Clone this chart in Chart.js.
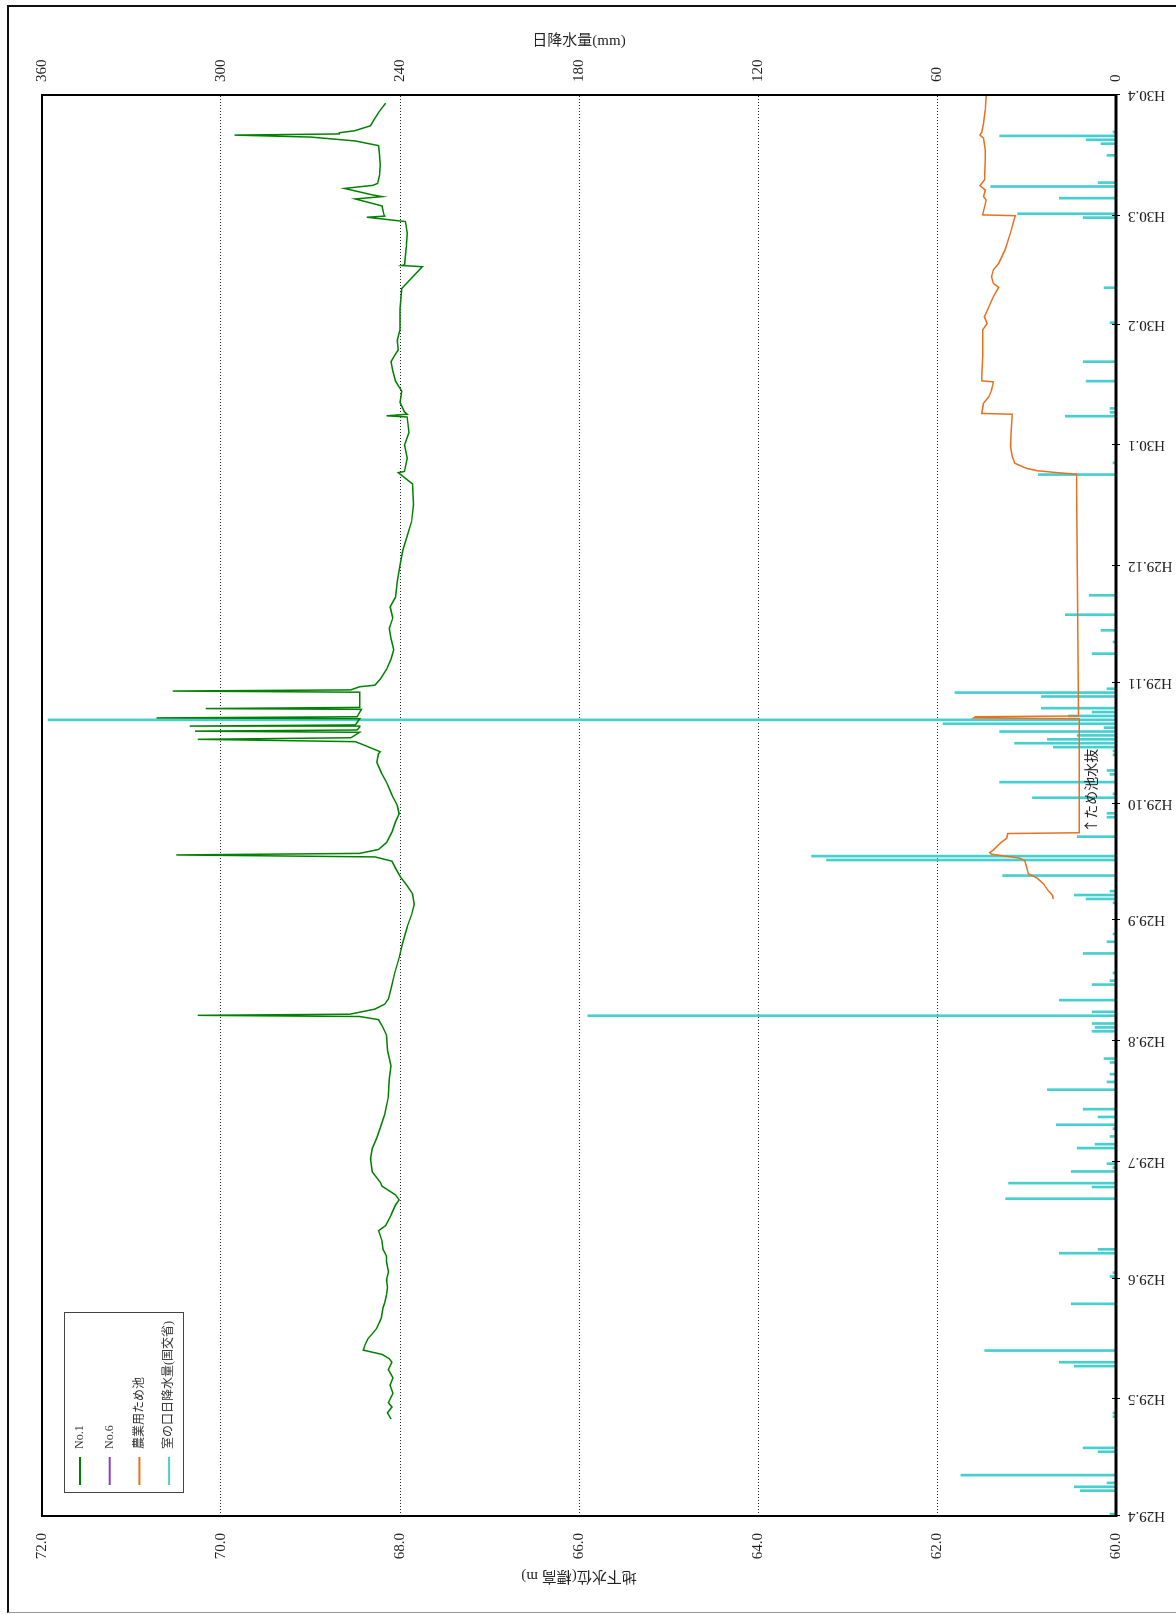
<!DOCTYPE html>
<html lang="ja">
<head>
<meta charset="utf-8">
<title>地下水位と日降水量</title>
<script src="https://cdn.jsdelivr.net/npm/chart.js@4.4.1/dist/chart.umd.min.js"></script>
<style>
  html, body { margin: 0; padding: 0; background: #fff; }
  #page { position: relative; width: 1176px; height: 1614px; overflow: hidden; background: #fff; }
  #frame { position: absolute; left: 7px; top: 5px; width: 1169px; height: 1608px; box-sizing: border-box;
           border-top: 2px solid #111; border-left: 2px solid #111; border-bottom: 1px solid #999; }
  /* the chart is laid out landscape and turned a quarter turn to the left */
  #turn { position: absolute; left: 0; top: 0; width: 1614px; height: 1176px;
          transform-origin: 0 0; transform: translateY(1614px) rotate(-90deg); }
</style>
</head>
<body>
<div id="page">
  <div id="frame"></div>
  <div id="turn"><canvas id="chart" width="1614" height="1176"></canvas></div>
</div>
<script>
// days counted from H29.4.1
var monthDays = [0, 30, 61, 91, 122, 153, 183, 214, 244, 275, 306, 334, 365];
var monthLabels = ['H29.4', 'H29.5', 'H29.6', 'H29.7', 'H29.8', 'H29.9', 'H29.10',
                   'H29.11', 'H29.12', 'H30.1', 'H30.2', 'H30.3', 'H30.4'];
var levelTicks = [60, 62, 64, 66, 68, 70, 72];
var rainTicks = [0, 60, 120, 180, 240, 300, 360];

// 室の口 daily rainfall (mm)
var rainDay = [0, 6, 7, 8, 10, 16, 17, 25, 26, 38, 39, 42, 54, 61, 62, 67, 68,
  81, 84, 85, 88, 89, 90, 94, 95, 97, 99, 100, 102, 104, 109, 111, 113, 116, 117,
  124, 125, 126, 128, 129, 132, 136, 137, 139, 144, 147, 149, 157, 158, 159, 160,
  164, 168, 169, 174, 179, 180, 184, 185, 188, 190, 191, 195, 196, 197, 198, 199,
  200, 201, 202, 203, 204, 205, 206, 207, 210, 211, 212, 221, 224, 227, 231, 236,
  267, 270, 282, 283, 284, 291, 296, 306, 315, 333, 334, 338, 341, 342, 349, 352,
  353, 354, 355];
var rainMm = [2, 12, 14, 3, 52, 6, 11, 1, 1, 14, 19, 44, 15, 2, 1, 19, 6,
  37, 8, 36, 15, 1, 3, 13, 7, 2, 1, 20, 6, 11, 23, 3, 2, 2, 4,
  8, 7, 8, 177, 8, 19, 8, 2, 1, 11, 3, 1, 1, 10, 14, 2,
  38, 97, 102, 13, 3, 3, 28, 1, 39, 2, 3, 1, 1, 21, 34, 23,
  13, 39, 4, 58, 358, 16, 8, 25, 25, 54, 3, 8, 1, 5, 17, 9,
  26, 1, 17, 2, 2, 10, 11, 2, 4, 11, 33, 19, 42, 6, 3, 5,
  10, 39, 1];

// No.1 groundwater level (m)
var no1Day = [24.9, 26.5, 28.0, 29.1, 31.5, 33.6, 35.5, 37.6, 39.5, 40.4, 41.5, 42.6, 44.0,
  45.5, 46.8, 48.2, 50.8, 53.5, 54.8, 56.8, 58.7, 60.7, 62.7, 65.3, 66.7, 68.5, 70.6, 73.3,
  74.6, 77.3, 79.9, 81.2, 82.5, 84.7, 85.7, 88.4, 91.8, 94.4, 97.1, 99.7, 103.2, 107.7,
  112.2, 115.6, 119.6, 123.5, 125.9, 127.5, 128.3, 128.6, 128.9, 130.2, 131.5, 132.8, 135.4,
  139.4, 143.4, 147.3, 151.3, 154.5, 157.1, 159.8, 161.9, 164.0, 166.4, 168.2, 169.3, 169.8,
  170.2, 171.2, 173.0, 175.7, 178.3, 180.4, 182.5, 185.2, 188.4, 191.0, 193.6, 195.8, 196.3,
  198.0, 198.9, 199.5, 199.9, 201.3, 201.6, 201.9, 202.7, 202.9, 203.2, 204.8, 205.0, 205.3,
  207.2, 207.4, 207.7, 211.6, 211.9, 212.2, 213.0, 213.4, 215.0, 217.5, 220.1, 222.5, 225.4,
  228.0, 230.7, 233.5, 236.0, 240.0, 244.2, 248.0, 251.8, 255.5, 259.8, 265.1, 268.0, 268.3,
  271.7, 275.1, 278.3, 282.3, 282.6, 283.0, 283.6, 286.0, 288.9, 291.5, 294.2, 296.5, 298.1,
  299.5, 302.0, 304.7, 310.0, 315.3, 320.9, 321.2, 321.4, 325.9, 329.5, 332.5, 333.6, 333.9,
  334.3, 336.5, 338.3, 338.9, 339.3, 341.0, 341.8, 342.3, 344.4, 347.0, 349.7, 352.0, 353.2,
  354.2, 354.7, 355.0, 355.3, 355.8, 357.1, 359.0, 360.5, 362.9, 364.8];
var no1Level = [68.10, 68.14, 68.09, 68.13, 68.08, 68.11, 68.08, 68.13, 68.09, 68.12, 68.20,
  68.41, 68.39, 68.36, 68.31, 68.26, 68.21, 68.19, 68.17, 68.15, 68.14, 68.15, 68.13, 68.15,
  68.15, 68.19, 68.20, 68.24, 68.16, 68.10, 68.05, 68.01, 68.05, 68.20, 68.22, 68.31, 68.33,
  68.31, 68.26, 68.22, 68.17, 68.13, 68.12, 68.10, 68.14, 68.15, 68.20, 68.24, 68.45, 70.26,
  68.56, 68.28, 68.17, 68.13, 68.10, 68.06, 68.01, 67.97, 67.92, 67.87, 67.84, 67.86, 67.92,
  67.99, 68.05, 68.09, 68.28, 70.50, 68.45, 68.24, 68.15, 68.09, 68.05, 68.01, 68.03, 68.09,
  68.15, 68.21, 68.26, 68.24, 68.22, 68.40, 68.50, 70.26, 68.55, 68.45, 70.29, 68.48, 68.45,
  70.35, 68.50, 68.45, 70.72, 68.48, 68.43, 70.17, 68.45, 68.45, 70.54, 68.55, 68.45, 68.28,
  68.22, 68.15, 68.10, 68.07, 68.10, 68.12, 68.08, 68.11, 68.05, 68.03, 68.00, 67.97, 67.92,
  67.87, 67.85, 67.86, 68.02, 67.95, 67.92, 67.95, 67.90, 67.92, 68.15, 67.92, 67.95, 68.00,
  67.98, 68.05, 68.08, 68.10, 68.06, 68.02, 68.03, 68.00, 68.00, 67.98, 67.75, 67.98, 67.95,
  67.93, 67.92, 67.94, 68.37, 68.17, 68.18, 68.20, 68.50, 68.20, 68.30, 68.62, 68.30, 68.25,
  68.23, 68.22, 68.23, 68.24, 68.50, 69.00, 69.85, 68.68, 68.68, 68.51, 68.33, 68.28, 68.24,
  68.16];

// No.6 has no readings in this period
var no6Day = [];
var no6Level = [];

// 農業用ため池 water level (m)
var pondDay = [158.5, 159.4, 160.7, 162.4, 163.8, 165.0, 166.8, 168.4, 169.0, 169.5, 170.0,
  170.4, 171.1, 172.9, 174.1, 175.3, 175.5, 204.8, 205.0, 205.3, 205.5, 267.6, 268.0, 268.5,
  269.1, 270.4, 272.1, 274.7, 279.0, 283.0, 283.2, 285.8, 287.5, 289.2, 291.3, 291.6, 292.7,
  297.8, 304.7, 306.3, 308.0, 310.6, 313.2, 315.6, 316.6, 318.3, 320.1, 321.8, 325.2, 329.5,
  334.0, 334.2, 338.0, 338.9, 340.6, 341.7, 343.2, 348.3, 350.9, 353.9, 354.7, 355.4, 357.7,
  361.2, 365.0];
var pondLevel = [60.70, 60.71, 60.76, 60.81, 60.88, 60.98, 61.00, 61.02, 61.08, 61.24, 61.39,
  61.41, 61.37, 61.29, 61.22, 61.21, 60.41, 60.41, 61.59, 61.57, 60.42, 60.44, 60.66, 60.88,
  61.00, 61.13, 61.16, 61.18, 61.17, 61.16, 61.50, 61.48, 61.42, 61.39, 61.37, 61.50, 61.50,
  61.49, 61.49, 61.44, 61.47, 61.42, 61.37, 61.31, 61.37, 61.39, 61.37, 61.31, 61.24, 61.18,
  61.125, 61.49, 61.45, 61.48, 61.46, 61.52, 61.47, 61.46, 61.46, 61.48, 61.52, 61.50, 61.48,
  61.46, 61.45];

var drainNote = '↑ため池水抜';
var drainDay = 175.5;

var FONT = "'Liberation Serif', 'Noto Sans CJK JP', serif";
var JP_FONT = "'Noto Sans CJK JP', sans-serif";

function pairs(xs, ys) {
    return xs.map(function (x, i) { return { x: x, y: ys[i] }; });
}

// rainfall bars sit in the middle of their day
var rainBars = rainDay.map(function (d, i) { return { x: d + 0.5, y: rainMm[i] }; });

function fixedTicks(values) {
    return function (scale) {
        scale.ticks = values.map(function (v) { return { value: v }; });
    };
}

// plot frame, thick time axis and month tick marks
var framePlugin = {
    id: 'frame',
    afterDatasetsDraw: function (chart) {
        var a = chart.chartArea, ctx = chart.ctx, x = chart.scales.x;
        ctx.save();
        ctx.strokeStyle = '#000';
        ctx.lineWidth = 2;
        ctx.strokeRect(a.left, a.top, a.right - a.left, a.bottom - a.top);
        ctx.lineWidth = 3;
        ctx.beginPath();
        ctx.moveTo(a.left - 1, a.bottom);
        ctx.lineTo(a.right + 1, a.bottom);
        ctx.stroke();
        ctx.lineWidth = 1;
        monthDays.forEach(function (d) {
            var px = Math.round(x.getPixelForValue(d)) + 0.5;
            ctx.beginPath();
            ctx.moveTo(px, a.bottom - 4);
            ctx.lineTo(px, a.bottom + 4);
            ctx.stroke();
        });
        ctx.restore();
    }
};

// boxed legend in the upper left of the plot
var legendPlugin = {
    id: 'boxLegend',
    afterDraw: function (chart) {
        var ctx = chart.ctx, a = chart.chartArea;
        var left = a.left + 23, top = a.top + 22, w = 180, h = 119;
        ctx.save();
        ctx.fillStyle = '#fff';
        ctx.fillRect(left, top, w, h);
        ctx.strokeStyle = '#444';
        ctx.lineWidth = 1;
        ctx.strokeRect(left + 0.5, top + 0.5, w, h);
        ctx.font = '12px ' + FONT;
        ctx.textBaseline = 'middle';
        ctx.textAlign = 'left';
        chart.data.datasets.forEach(function (ds, i) {
            var y = top + 16 + i * 29.7;
            ctx.strokeStyle = ds.borderColor || ds.backgroundColor;
            ctx.lineWidth = 2;
            ctx.beginPath();
            ctx.moveTo(left + 8, y);
            ctx.lineTo(left + 36, y);
            ctx.stroke();
            ctx.fillStyle = '#333';
            ctx.fillText(ds.label, left + 44, y);
        });
        ctx.restore();
    }
};

// note for the pond drain-down
var notePlugin = {
    id: 'drainNote',
    afterDatasetsDraw: function (chart) {
        var ctx = chart.ctx, a = chart.chartArea;
        var px = chart.scales.x.getPixelForValue(drainDay);
        ctx.save();
        ctx.font = '14px ' + JP_FONT;
        ctx.fillStyle = '#222';
        ctx.textAlign = 'left';
        ctx.textBaseline = 'middle';
        ctx.fillText(drainNote, px, a.bottom - 25);
        ctx.restore();
    }
};

var tickFont = { family: FONT, size: 15 };

var config = {
    type: 'line',
    data: {
        datasets: [{
            label: 'No.1',
            data: pairs(no1Day, no1Level),
            borderColor: '#008000',
            borderWidth: 1.5,
            pointRadius: 0,
            tension: 0,
            yAxisID: 'y',
            order: 1
        }, {
            label: 'No.6',
            data: pairs(no6Day, no6Level),
            borderColor: '#8a3fc8',
            borderWidth: 1.5,
            pointRadius: 0,
            yAxisID: 'y',
            order: 2
        }, {
            label: '農業用ため池',
            data: pairs(pondDay, pondLevel),
            borderColor: '#e8701e',
            borderWidth: 1.5,
            pointRadius: 0,
            tension: 0,
            yAxisID: 'y',
            order: 3
        }, {
            type: 'bar',
            label: '室の口日降水量(国交省)',
            data: rainBars,
            backgroundColor: '#45cfcf',
            borderColor: '#45cfcf',
            barThickness: 2,
            yAxisID: 'y2',
            order: 4
        }]
    },
    options: {
        responsive: false,
        animation: false,
        devicePixelRatio: 1,
        layout: { padding: { top: 42 } },
        plugins: {
            legend: { display: false },
            tooltip: { enabled: false }
        },
        scales: {
            x: {
                type: 'linear',
                min: 0,
                max: 365,
                offset: false,
                afterBuildTicks: fixedTicks(monthDays),
                afterFit: function (s) { s.height = 60; },
                grid: { display: false, drawTicks: false, offset: false },
                border: { display: false },
                ticks: {
                    autoSkip: false,
                    minRotation: 90,
                    maxRotation: 90,
                    padding: 12,
                    color: '#222',
                    font: tickFont,
                    callback: function (v, i) { return monthLabels[i]; }
                }
            },
            y: {
                position: 'left',
                min: 60,
                max: 72,
                afterBuildTicks: fixedTicks(levelTicks),
                afterFit: function (s) { s.width = 98; },
                grid: { color: '#222', lineWidth: 1, drawTicks: false },
                border: { display: false, dash: [1, 2] },
                ticks: {
                    padding: 17,
                    color: '#222',
                    font: tickFont,
                    callback: function (v) { return Number(v).toFixed(1); }
                },
                title: {
                    display: true,
                    text: '地下水位(標高 m)',
                    color: '#222',
                    font: { family: FONT, size: 15 },
                    padding: { top: 29, bottom: 0 }
                }
            },
            y2: {
                position: 'right',
                min: 0,
                max: 360,
                afterBuildTicks: fixedTicks(rainTicks),
                afterFit: function (s) { s.width = 95; },
                grid: { display: false, drawTicks: false },
                border: { display: false },
                ticks: {
                    padding: 13,
                    color: '#222',
                    font: tickFont
                },
                title: {
                    display: true,
                    text: '日降水量(mm)',
                    color: '#222',
                    font: { family: FONT, size: 15 },
                    padding: { top: 32, bottom: 0 }
                }
            }
        }
    },
    plugins: [framePlugin, notePlugin, legendPlugin]
};

window.onload = function () {
    var ctx = document.getElementById('chart').getContext('2d');
    window.levelChart = new Chart(ctx, config);
};
</script>
</body>
</html>
